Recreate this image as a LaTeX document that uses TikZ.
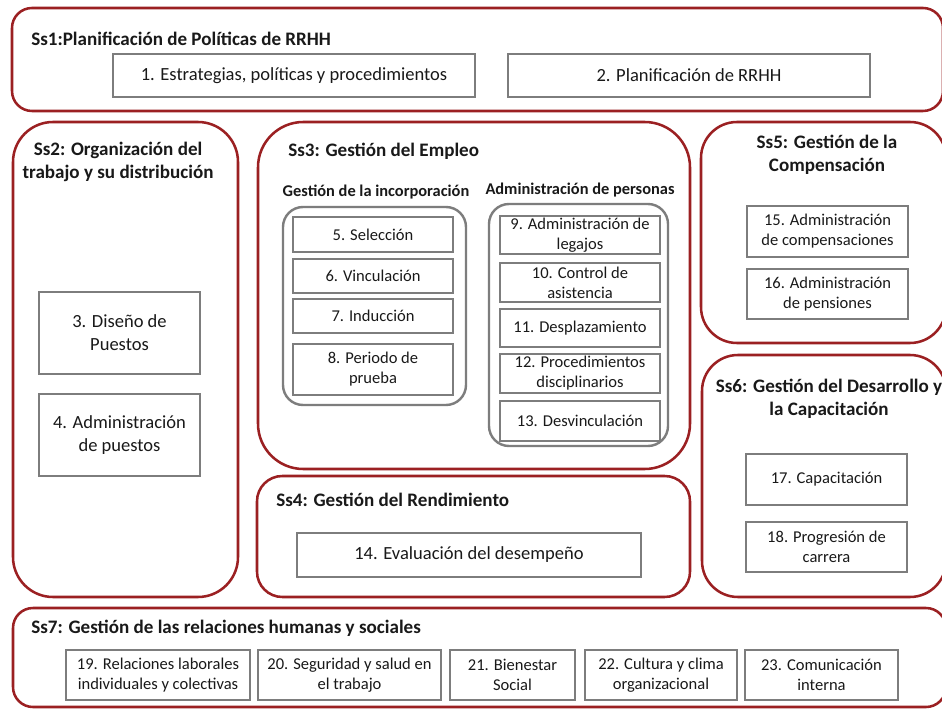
\documentclass[tikz,border=0pt]{standalone}
\usepackage{fontspec}
\setmainfont{Carlito}
\definecolor{ssred}{RGB}{155,32,34}
\definecolor{boxgray}{RGB}{125,125,125}
\definecolor{ink}{RGB}{25,25,25}
% #1 style, #2 name, #3 x1, #4 y1, #5 x2, #6 y2, #7 text  (pixel coordinates)
\newcommand\pxnode[7]{%
  \pgfmathsetmacro\pxcx{(#3+#5)/2}%
  \pgfmathsetmacro\pxcy{(#4+#6)/2}%
  \pgfmathsetmacro\pxw{(#5-#3)*0.75}%
  \pgfmathsetmacro\pxh{(#6-#4)*0.75}%
  \node[#1, minimum width=\pxw pt, minimum height=\pxh pt] (#2) at (\pxcx,\pxcy) {#7};}
\begin{document}
\begin{tikzpicture}[x=0.75pt,y=-0.75pt,
  ss/.style={draw=ssred, line width=1.9pt, inner sep=0pt},
  grp/.style={draw=boxgray, line width=1.8pt, rounded corners=15pt, inner sep=0pt},
  bigbox/.style={draw=boxgray, line width=1.5pt, inner sep=0pt, align=center, text=ink, font=\fontsize{13.9}{17.3}\selectfont},
  smallbox/.style={draw=boxgray, line width=1.5pt, inner sep=0pt, align=center, text=ink, font=\fontsize{12.4}{15}\selectfont},
  title/.style={font=\bfseries\fontsize{14.3}{17}\selectfont, inner sep=0pt, align=center, text=ink},
  subtitle/.style={font=\bfseries\fontsize{12.3}{14.8}\selectfont, inner sep=0pt, text=ink}]
\useasboundingbox (0,0) rectangle (942,709);
\fill[white] (0,0) rectangle (942,709);
\clip (0,0) rectangle (942,709);

% Ss1
\pxnode{ss, rounded corners=15pt}{ss1}{12}{8}{943}{111}{}
\node[title, anchor=west] (t1) at (31,39) {Ss1:Planificación de Políticas de RRHH};
\pxnode{bigbox}{b1}{113}{54}{475}{97}{1. Estrategias, políticas y procedimientos}
\pxnode{bigbox}{b2}{508}{54}{870}{97}{2. Planificación de RRHH}

% Ss2
\pxnode{ss, rounded corners=30pt}{ss2}{13}{122}{238}{597}{}
\node[title] (t2) at (118,162) {Ss2: Organización del\\trabajo y su distribución};
\pxnode{bigbox}{b3}{39}{292}{200}{374}{3. Diseño de\\Puestos}
\pxnode{bigbox}{b4}{39}{394}{200}{476}{4. Administración\\de puestos}

% Ss3
\pxnode{ss, rounded corners=34pt}{ss3}{258}{122}{690}{469}{}
\node[title, anchor=west] (t3) at (288,151) {Ss3: Gestión del Empleo};
\node[subtitle] (s3a) at (376,192) {Gestión de la incorporación};
\node[subtitle] (s3b) at (580,190) {Administración de personas};
\pxnode{grp}{g1}{283}{207}{466}{405}{}
\pxnode{grp}{g2}{489}{204}{668}{446}{}
\pxnode{smallbox}{b5}{293}{217}{453}{252}{5. Selección}
\pxnode{smallbox}{b6}{293}{259}{453}{293}{6. Vinculación}
\pxnode{smallbox}{b7}{293}{299}{453}{333}{7. Inducción}
\pxnode{smallbox}{b8}{293}{344}{453}{395}{8. Periodo de\\prueba}
\pxnode{smallbox}{b9}{500}{216}{660}{254}{9. Administración de\\legajos}
\pxnode{smallbox}{b10}{500}{263}{660}{302}{10. Control de\\asistencia}
\pxnode{smallbox}{b11}{500}{309}{660}{347}{11. Desplazamiento}
\pxnode{smallbox}{b12}{500}{354}{660}{393}{12. Procedimientos\\disciplinarios}
\pxnode{smallbox}{b13}{500}{401}{660}{441}{13. Desvinculación}

% Ss4
\pxnode{ss, rounded corners=19pt}{ss4}{257}{476}{690}{597}{}
\node[title, anchor=west] (t4) at (276,500) {Ss4: Gestión del Rendimiento};
\pxnode{bigbox}{b14}{297}{533}{641}{577}{14. Evaluación del desempeño}

% Ss5
\pxnode{ss, rounded corners=27pt}{ss5}{701}{122}{946}{343}{}
\node[title] (t5) at (827,155) {Ss5: Gestión de la\\Compensación};
\pxnode{smallbox}{b15}{747}{206}{908}{257}{15. Administración\\de compensaciones}
\pxnode{smallbox}{b16}{747}{269}{908}{319}{16. Administración\\de pensiones}

% Ss6
\pxnode{ss, rounded corners=27pt}{ss6}{702}{355}{946}{597}{}
\node[title] (t6) at (829,399) {Ss6: Gestión del Desarrollo y\\la Capacitación};
\pxnode{smallbox}{b17}{746}{454}{907}{505}{17. Capacitación}
\pxnode{smallbox}{b18}{746}{522}{907}{572}{18. Progresión de\\carrera}

% Ss7
\pxnode{ss, rounded corners=15pt}{ss7}{13}{608}{946}{707}{}
\node[title, anchor=west] (t7) at (31,628) {Ss7: Gestión de las relaciones humanas y sociales};
\pxnode{smallbox}{b19}{66}{650}{250}{700}{19. Relaciones laborales\\individuales y colectivas}
\pxnode{smallbox}{b20}{258}{650}{441}{700}{20. Seguridad y salud en\\el trabajo}
\pxnode{smallbox}{b21}{450}{650}{575}{700}{21. Bienestar\\Social}
\pxnode{smallbox}{b22}{585}{650}{737}{700}{22. Cultura y clima\\organizacional}
\pxnode{smallbox}{b23}{745}{650}{898}{700}{23. Comunicación\\interna}
\end{tikzpicture}
\end{document}
